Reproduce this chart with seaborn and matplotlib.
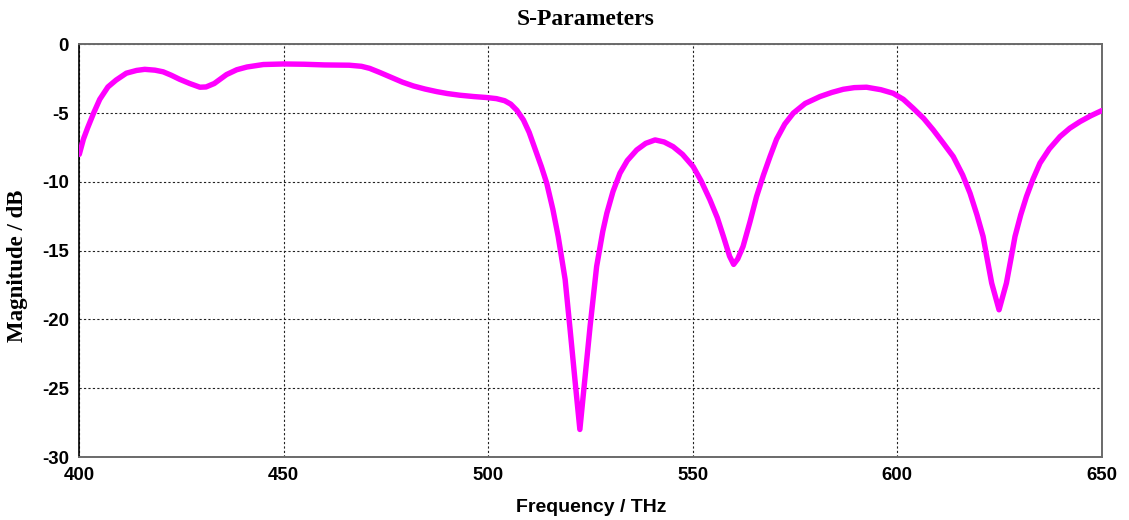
import matplotlib
matplotlib.use("Agg")
import matplotlib.pyplot as plt
import seaborn as sns
import pandas as pd

# S11 magnitude sweep (frequency in THz, magnitude in dB)
freq_thz = [
    400, 401, 402, 403.5, 405, 407, 409, 411.5, 414, 416, 418.5, 420.5, 422.5,
    424.5, 427, 429.5, 431, 433, 436, 438.5, 441, 445, 450, 455, 460, 466, 469,
    471, 473.5, 476.8, 479, 481.7, 484.5, 487.4, 490, 493, 496.5, 499.6, 502,
    504, 505.5, 507, 508.6, 510, 511.8, 513, 514.3, 515.8, 517.1, 518.8, 520,
    521.2, 522.4, 523.6, 524.9, 526.5, 528, 529, 530.5, 532.2, 534, 536.3,
    538.5, 540.8, 543, 545.2, 547.5, 550.1, 552, 554.2, 556, 557.5, 559, 560,
    561, 562.3, 564, 565.6, 567.3, 568.9, 570.5, 572.5, 574.6, 577.5, 581.1,
    584, 586.8, 589.5, 592.5, 596, 599, 601.5, 603.9, 606.5, 608.8, 611.3,
    613.7, 616, 617.8, 619.5, 621, 622, 623.1, 624.9, 626.7, 627.8, 628.8,
    630.2, 631.6, 633.2, 634.9, 637.2, 639.8, 642.2, 644.7, 647.3, 650,
]
magnitude_db = [
    -8.0, -6.9, -6.1, -5.0, -4.0, -3.1, -2.6, -2.1, -1.9, -1.82, -1.88, -2.0,
    -2.25, -2.54, -2.85, -3.12, -3.1, -2.85, -2.2, -1.85, -1.65, -1.47, -1.43,
    -1.45, -1.5, -1.52, -1.6, -1.75, -2.05, -2.47, -2.75, -3.03, -3.25, -3.44,
    -3.58, -3.7, -3.8, -3.87, -3.95, -4.1, -4.35, -4.8, -5.5, -6.4, -7.9, -8.9,
    -10.1, -12.0, -13.97, -17.1, -20.7, -24.4, -28.0, -24.4, -20.5, -16.15,
    -13.6, -12.27, -10.7, -9.37, -8.45, -7.68, -7.2, -6.95, -7.1, -7.44, -8.0,
    -8.89, -9.9, -11.3, -12.6, -13.97, -15.4, -16.0, -15.6, -14.7, -12.9,
    -11.07, -9.5, -8.16, -6.9, -5.8, -5.0, -4.3, -3.8, -3.5, -3.27, -3.15,
    -3.12, -3.3, -3.56, -4.0, -4.65, -5.4, -6.22, -7.2, -8.16, -9.5, -10.82,
    -12.4, -13.97, -15.6, -17.36, -19.3, -17.36, -15.6, -13.97, -12.4, -11.07,
    -9.8, -8.64, -7.6, -6.71, -6.1, -5.62, -5.2, -4.82,
]

x_ticks = [400, 450, 500, 550, 600, 650]
y_ticks = [-30, -25, -20, -15, -10, -5, 0]

sns.set_style("white")
plt.rcParams["axes.unicode_minus"] = False
plt.rcParams["text.color"] = "black"
SANS = ["Liberation Sans", "DejaVu Sans"]
SERIF = ["Liberation Serif", "DejaVu Serif"]
plt.rcParams["font.family"] = SANS

df = pd.DataFrame({"Frequency": freq_thz, "Magnitude": magnitude_db})

W, H = 1129, 520
fig = plt.figure(figsize=(W / 100, H / 100), dpi=100)
ax = fig.add_axes([79.3 / W, 1 - 457 / H, (1101.7 - 79.3) / W, (457 - 44.3) / H])

sns.lineplot(data=df, x="Frequency", y="Magnitude", ax=ax, color="#FF00FF",
             linewidth=3.9, solid_capstyle="round", solid_joinstyle="round",
             zorder=3)

ax.set_xlim(400, 650)
ax.set_ylim(-30, 0)
ax.set_xticks(x_ticks)
ax.set_yticks(y_ticks)
ax.set_xticklabels([str(v) for v in x_ticks])
ax.set_yticklabels([str(v) for v in y_ticks])
ax.set_xlabel("")
ax.set_ylabel("")

ax.grid(True, color="#222222", linestyle=(0, (2, 2)), linewidth=0.8, zorder=1)

for side in ["top", "right", "bottom"]:
    ax.spines[side].set_color("#6a6a6a")
    ax.spines[side].set_linewidth(1.4)
ax.spines["left"].set_color("black")
ax.spines["left"].set_linewidth(1.2)

ax.tick_params(axis="both", direction="out", length=2.5, width=1,
               color="black", labelcolor="black")
ax.tick_params(axis="x", pad=5)
ax.tick_params(axis="y", pad=5)
for lbl in ax.get_xticklabels() + ax.get_yticklabels():
    lbl.set_fontweight("bold")
    lbl.set_fontsize(13.4)
    lbl.set_fontfamily(SANS)

fig.text(586 / W, 1 - 25 / H, "S-Parameters", ha="center", va="baseline",
         fontsize=17, fontweight="bold", family=SERIF, color="black")
fig.text(17.5 / W, 1 - 265.5 / H, "Magnitude / dB", ha="center", va="center",
         rotation=90, fontsize=16.5, fontweight="bold", family=SERIF,
         color="black")
fig.text(590.8 / W, 1 - 511.7 / H, "Frequency / THz", ha="center", va="baseline",
         fontsize=14, fontweight="bold", family=SANS, color="black")

fig.savefig("out.png", dpi=100, facecolor="white")
